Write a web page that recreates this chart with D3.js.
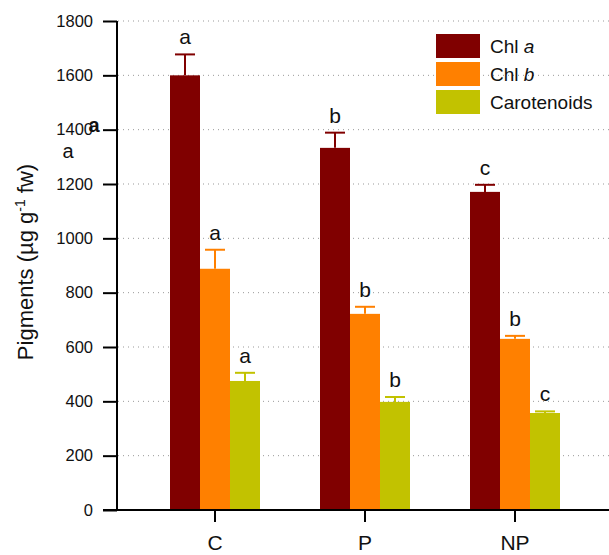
<!DOCTYPE html>
<html>
<head>
<meta charset="utf-8">
<script src="https://cdn.jsdelivr.net/npm/d3@7"></script>
<style>
  body { margin: 0; background: #fff; }
  svg { display: block; font-family: "Liberation Sans", Arial, sans-serif; }
</style>
</head>
<body>
<div id="chart"></div>
<script>
// Treatments and pigment series
const groups = ["C", "P", "NP"];
const series = ["Chl a", "Chl b", "Carotenoids"];
const colors = ["#800000", "#ff8000", "#c2c200"];

// Mean values (µg g-1 fw) per series, in group order
const chlA = [1600, 1333, 1171];
const chlB = [888, 722, 630];
const carot = [475, 398, 357];

// Upper error (SE) per series
const chlAErr = [77, 56, 26];
const chlBErr = [70, 26, 11];
const carotErr = [30, 18, 6];

// Significance letters
const chlALetters = ["a", "b", "c"];
const chlBLetters = ["a", "b", "b"];
const carotLetters = ["a", "b", "c"];

const yTicks = [0, 200, 400, 600, 800, 1000, 1200, 1400, 1600, 1800];

const width = 609, height = 555;

const values = [chlA, chlB, carot];
const errors = [chlAErr, chlBErr, carotErr];
const letters = [chlALetters, chlBLetters, carotLetters];

const svg = d3.select("#chart").append("svg")
    .attr("width", width)
    .attr("height", height);

const y = d3.scaleLinear().domain([0, 1800]).range([510, 21]);

const x = d3.scaleBand().domain(groups).range([140, 590]).padding(0);
const xs = d3.scaleBand().domain(series).range([0, 90]);
const groupOffset = (x.bandwidth() - 90) / 2;

// Dotted grid lines
svg.append("g")
    .selectAll("line")
    .data(yTicks.filter(d => d > 0))
    .join("line")
    .attr("x1", 118)
    .attr("x2", width)
    .attr("y1", d => y(d))
    .attr("y2", d => y(d))
    .attr("stroke", "#999")
    .attr("stroke-width", 1)
    .attr("stroke-dasharray", "1,4");

// Bars
const barGroups = svg.append("g")
    .selectAll("g")
    .data(series)
    .join("g");

barGroups.each(function(s, si) {
    const g = d3.select(this);
    groups.forEach((grp, gi) => {
        const v = values[si][gi];
        const e = errors[si][gi];
        const bx = x(grp) + groupOffset + xs(s);
        const cx = bx + xs.bandwidth() / 2;
        g.append("rect")
            .attr("x", bx)
            .attr("y", y(v))
            .attr("width", xs.bandwidth())
            .attr("height", y(0) - y(v))
            .attr("fill", colors[si]);
        g.append("line")
            .attr("x1", cx).attr("x2", cx)
            .attr("y1", y(v)).attr("y2", y(v + e))
            .attr("stroke", colors[si]).attr("stroke-width", 2);
        g.append("line")
            .attr("x1", cx - 10).attr("x2", cx + 10)
            .attr("y1", y(v + e)).attr("y2", y(v + e))
            .attr("stroke", colors[si]).attr("stroke-width", 2);
        g.append("text")
            .attr("x", cx)
            .attr("y", y(v + e) - 10)
            .attr("text-anchor", "middle")
            .attr("font-size", 21)
            .attr("fill", "#111")
            .text(letters[si][gi]);
    });
});

// Y axis
const yAxis = svg.append("g")
    .attr("transform", "translate(117,0)")
    .call(d3.axisLeft(y).tickValues(yTicks).tickSize(14).tickPadding(10).tickFormat(d3.format("d")));
yAxis.select(".domain").attr("stroke", "#000").attr("stroke-width", 2).attr("d", "M0,510V21");
yAxis.selectAll(".tick line").attr("stroke", "#000").attr("stroke-width", 2);
yAxis.selectAll(".tick text")
    .attr("font-size", 16.5)
    .attr("fill", "#111")
    .attr("font-family", "Liberation Sans, Arial, sans-serif");

// X axis
const xAxis = svg.append("g")
    .attr("transform", "translate(0,510)")
    .call(d3.axisBottom(x).tickSize(12).tickPadding(13));
xAxis.select(".domain").attr("stroke", "#000").attr("stroke-width", 2).attr("d", `M103,0H${width}`);
xAxis.selectAll(".tick line").attr("stroke", "#000").attr("stroke-width", 2);
xAxis.selectAll(".tick text")
    .attr("font-size", 21)
    .attr("fill", "#111")
    .attr("font-family", "Liberation Sans, Arial, sans-serif");

// Y axis title
const title = svg.append("text")
    .attr("transform", "translate(33,262) rotate(-90)")
    .attr("text-anchor", "middle")
    .attr("font-size", 22)
    .attr("fill", "#111");
title.append("tspan").text("Pigments (µg g");
title.append("tspan").attr("dy", -8).attr("font-size", 14).text("-1");
title.append("tspan").attr("dy", 8).text(" fw)");

// Stray letters near the y axis
svg.append("text").attr("x", 94).attr("y", 132).attr("text-anchor", "middle")
    .attr("font-size", 20).attr("font-weight", "bold").attr("fill", "#111").text("a");
svg.append("text").attr("x", 68).attr("y", 158).attr("text-anchor", "middle")
    .attr("font-size", 20).attr("fill", "#111").text("a");

// Legend
const legend = svg.append("g").attr("transform", "translate(436,34)");
series.forEach((s, i) => {
    const row = legend.append("g").attr("transform", `translate(0,${i * 28})`);
    row.append("rect").attr("width", 44).attr("height", 24).attr("fill", colors[i]);
    const t = row.append("text").attr("x", 54).attr("y", 19)
        .attr("font-size", 19).attr("fill", "#111");
    if (s === "Chl a" || s === "Chl b") {
        t.append("tspan").text("Chl ");
        t.append("tspan").attr("font-style", "italic").text(s.slice(-1));
    } else {
        t.text(s);
    }
});
</script>
</body>
</html>
